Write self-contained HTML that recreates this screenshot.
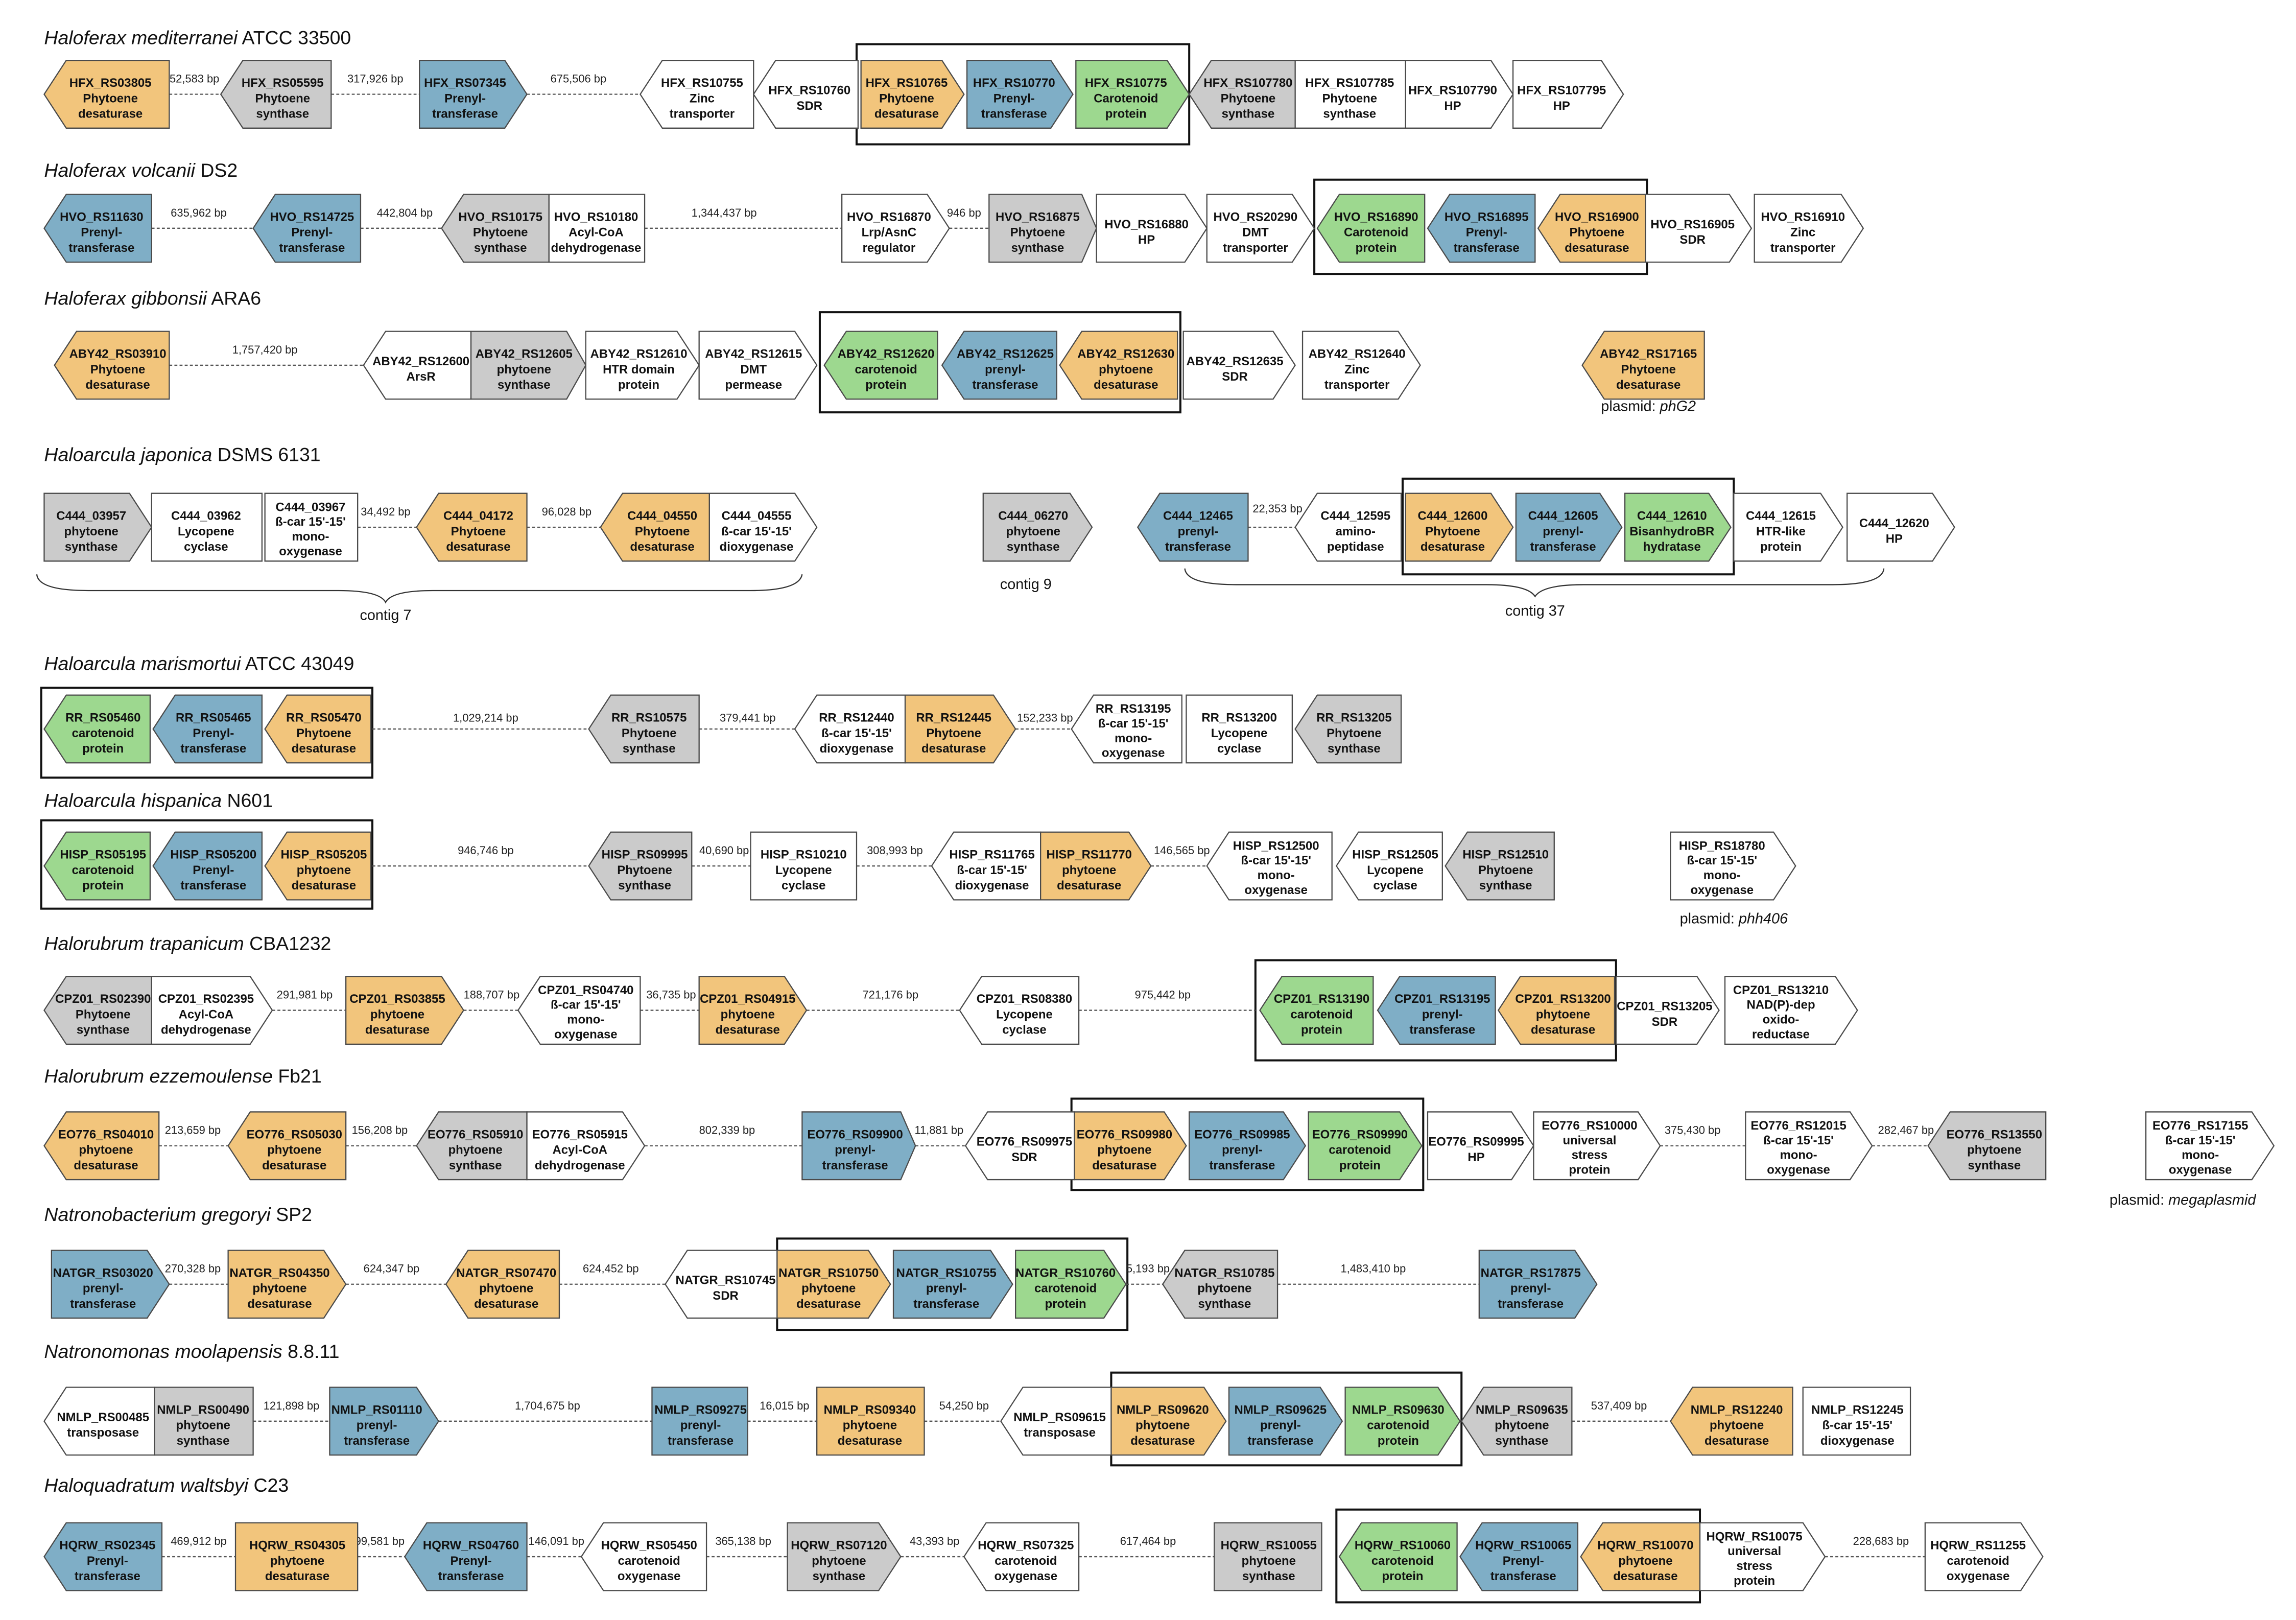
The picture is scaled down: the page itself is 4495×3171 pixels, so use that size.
<!DOCTYPE html>
<html><head><meta charset="utf-8"><style>
html,body{margin:0;padding:0;background:#fff;}
svg{display:block;}
.o{fill:#F2C57C}.b{fill:#7FAEC6}.g{fill:#9DD88F}.y{fill:#CBCBCB}.w{fill:#fff}
polygon{stroke:#4a4a4a;stroke-width:.8}
text{font-family:"Liberation Sans",Arial,sans-serif;}
.t{font-size:8.3px;font-weight:bold;text-anchor:middle;fill:#111}
.s{font-size:7.6px;text-anchor:middle;fill:#222}
.h{font-size:13px;fill:#111}
.c{font-size:10px;text-anchor:middle;fill:#111}
.d{stroke:#555;stroke-width:.8;stroke-dasharray:2,1.5}
.bx{fill:none;stroke:#111;stroke-width:1.4}
.br{fill:none;stroke:#333;stroke-width:.8}
</style></head><body>
<svg width="4495" height="3171" viewBox="0 0 1560 1100" preserveAspectRatio="none" xmlns="http://www.w3.org/2000/svg">
<rect width="1560" height="1100" fill="#fff"/>

<!-- Row 1 -->
<text class="h" x="30" y="30"><tspan font-style="italic">Haloferax mediterranei</tspan> ATCC 33500</text>
<rect class="bx" x="582" y="30" width="226" height="68"/>
<line class="d" x1="115" y1="64" x2="150" y2="64"/><text class="s" x="130" y="56">352,583 bp</text>
<line class="d" x1="225" y1="64" x2="285" y2="64"/><text class="s" x="255" y="56">317,926 bp</text>
<line class="d" x1="358" y1="64" x2="435" y2="64"/><text class="s" x="393" y="56">675,506 bp</text>
<polygon class="o" points="30,64 45,41 115,41 115,87 45,87"/><text class="t" x="75" y="59"><tspan x="75">HFX_RS03805</tspan><tspan x="75" dy="10.5">Phytoene</tspan><tspan x="75" dy="10.5">desaturase</tspan></text>
<polygon class="y" points="150,64 165,41 225,41 225,87 165,87"/><text class="t" x="192" y="59"><tspan x="192">HFX_RS05595</tspan><tspan x="192" dy="10.5">Phytoene</tspan><tspan x="192" dy="10.5">synthase</tspan></text>
<polygon class="b" points="285,41 343,41 358,64 343,87 285,87"/><text class="t" x="316" y="59"><tspan x="316">HFX_RS07345</tspan><tspan x="316" dy="10.5">Prenyl-</tspan><tspan x="316" dy="10.5">transferase</tspan></text>
<polygon class="w" points="435,64 450,41 512,41 512,87 450,87"/><text class="t" x="477" y="59"><tspan x="477">HFX_RS10755</tspan><tspan x="477" dy="10.5">Zinc</tspan><tspan x="477" dy="10.5">transporter</tspan></text>
<polygon class="w" points="512,64 527,41 583,41 583,87 527,87"/><text class="t" x="550" y="64"><tspan x="550">HFX_RS10760</tspan><tspan x="550" dy="10.5">SDR</tspan></text>
<polygon class="o" points="585,41 640,41 655,64 640,87 585,87"/><text class="t" x="616" y="59"><tspan x="616">HFX_RS10765</tspan><tspan x="616" dy="10.5">Phytoene</tspan><tspan x="616" dy="10.5">desaturase</tspan></text>
<polygon class="b" points="657,41 714,41 729,64 714,87 657,87"/><text class="t" x="689" y="59"><tspan x="689">HFX_RS10770</tspan><tspan x="689" dy="10.5">Prenyl-</tspan><tspan x="689" dy="10.5">transferase</tspan></text>
<polygon class="g" points="731,41 793,41 808,64 793,87 731,87"/><text class="t" x="765" y="59"><tspan x="765">HFX_RS10775</tspan><tspan x="765" dy="10.5">Carotenoid</tspan><tspan x="765" dy="10.5">protein</tspan></text>
<polygon class="y" points="808,64 823,41 880,41 880,87 823,87"/><text class="t" x="848" y="59"><tspan x="848">HFX_RS107780</tspan><tspan x="848" dy="10.5">Phytoene</tspan><tspan x="848" dy="10.5">synthase</tspan></text>
<polygon class="w" points="880,41 955,41 955,87 880,87"/><text class="t" x="917" y="59"><tspan x="917">HFX_RS107785</tspan><tspan x="917" dy="10.5">Phytoene</tspan><tspan x="917" dy="10.5">synthase</tspan></text>
<polygon class="w" points="955,41 1013,41 1028,64 1013,87 955,87"/><text class="t" x="987" y="64"><tspan x="987">HFX_RS107790</tspan><tspan x="987" dy="10.5">HP</tspan></text>
<polygon class="w" points="1028,41 1088,41 1103,64 1088,87 1028,87"/><text class="t" x="1061" y="64"><tspan x="1061">HFX_RS107795</tspan><tspan x="1061" dy="10.5">HP</tspan></text>

<!-- Row 2 -->
<text class="h" x="30" y="120"><tspan font-style="italic">Haloferax volcanii</tspan> DS2</text>
<rect class="bx" x="893" y="122" width="226" height="64"/>
<line class="d" x1="103" y1="155" x2="172" y2="155"/><text class="s" x="135" y="147">635,962 bp</text>
<line class="d" x1="245" y1="155" x2="300" y2="155"/><text class="s" x="275" y="147">442,804 bp</text>
<line class="d" x1="438" y1="155" x2="572" y2="155"/><text class="s" x="492" y="147">1,344,437 bp</text>
<line class="d" x1="645" y1="155" x2="672" y2="155"/><text class="s" x="655" y="147">946 bp</text>
<polygon class="b" points="30,155 45,132 103,132 103,178 45,178"/><text class="t" x="69" y="150"><tspan x="69">HVO_RS11630</tspan><tspan x="69" dy="10.5">Prenyl-</tspan><tspan x="69" dy="10.5">transferase</tspan></text>
<polygon class="b" points="172,155 187,132 245,132 245,178 187,178"/><text class="t" x="212" y="150"><tspan x="212">HVO_RS14725</tspan><tspan x="212" dy="10.5">Prenyl-</tspan><tspan x="212" dy="10.5">transferase</tspan></text>
<polygon class="y" points="300,155 315,132 373,132 373,178 315,178"/><text class="t" x="340" y="150"><tspan x="340">HVO_RS10175</tspan><tspan x="340" dy="10.5">Phytoene</tspan><tspan x="340" dy="10.5">synthase</tspan></text>
<polygon class="w" points="373,132 438,132 438,178 373,178"/><text class="t" x="405" y="150"><tspan x="405">HVO_RS10180</tspan><tspan x="405" dy="10.5">Acyl-CoA</tspan><tspan x="405" dy="10.5">dehydrogenase</tspan></text>
<polygon class="w" points="572,132 630,132 645,155 630,178 572,178"/><text class="t" x="604" y="150"><tspan x="604">HVO_RS16870</tspan><tspan x="604" dy="10.5">Lrp/AsnC</tspan><tspan x="604" dy="10.5">regulator</tspan></text>
<polygon class="y" points="672,132 735,132 745,155 735,178 672,178"/><text class="t" x="705" y="150"><tspan x="705">HVO_RS16875</tspan><tspan x="705" dy="10.5">Phytoene</tspan><tspan x="705" dy="10.5">synthase</tspan></text>
<polygon class="w" points="745,132 805,132 820,155 805,178 745,178"/><text class="t" x="779" y="155"><tspan x="779">HVO_RS16880</tspan><tspan x="779" dy="10.5">HP</tspan></text>
<polygon class="w" points="820,132 878,132 893,155 878,178 820,178"/><text class="t" x="853" y="150"><tspan x="853">HVO_RS20290</tspan><tspan x="853" dy="10.5">DMT</tspan><tspan x="853" dy="10.5">transporter</tspan></text>
<polygon class="g" points="895,155 910,132 968,132 968,178 910,178"/><text class="t" x="935" y="150"><tspan x="935">HVO_RS16890</tspan><tspan x="935" dy="10.5">Carotenoid</tspan><tspan x="935" dy="10.5">protein</tspan></text>
<polygon class="b" points="970,155 985,132 1043,132 1043,178 985,178"/><text class="t" x="1010" y="150"><tspan x="1010">HVO_RS16895</tspan><tspan x="1010" dy="10.5">Prenyl-</tspan><tspan x="1010" dy="10.5">transferase</tspan></text>
<polygon class="o" points="1045,155 1060,132 1118,132 1118,178 1060,178"/><text class="t" x="1085" y="150"><tspan x="1085">HVO_RS16900</tspan><tspan x="1085" dy="10.5">Phytoene</tspan><tspan x="1085" dy="10.5">desaturase</tspan></text>
<polygon class="w" points="1118,132 1175,132 1190,155 1175,178 1118,178"/><text class="t" x="1150" y="155"><tspan x="1150">HVO_RS16905</tspan><tspan x="1150" dy="10.5">SDR</tspan></text>
<polygon class="w" points="1192,132 1251,132 1266,155 1251,178 1192,178"/><text class="t" x="1225" y="150"><tspan x="1225">HVO_RS16910</tspan><tspan x="1225" dy="10.5">Zinc</tspan><tspan x="1225" dy="10.5">transporter</tspan></text>

<!-- Row 3 -->
<text class="h" x="30" y="207"><tspan font-style="italic">Haloferax gibbonsii</tspan> ARA6</text>
<rect class="bx" x="557" y="212" width="245" height="68"/>
<line class="d" x1="115" y1="248" x2="247" y2="248"/><text class="s" x="180" y="240">1,757,420 bp</text>
<polygon class="o" points="37,248 52,225 115,225 115,271 52,271"/><text class="t" x="80" y="243"><tspan x="80">ABY42_RS03910</tspan><tspan x="80" dy="10.5">Phytoene</tspan><tspan x="80" dy="10.5">desaturase</tspan></text>
<polygon class="w" points="247,248 262,225 320,225 320,271 262,271"/><text class="t" x="286" y="248"><tspan x="286">ABY42_RS12600</tspan><tspan x="286" dy="10.5">ArsR</tspan></text>
<polygon class="y" points="320,225 385,225 398,248 385,271 320,271"/><text class="t" x="356" y="243"><tspan x="356">ABY42_RS12605</tspan><tspan x="356" dy="10.5">phytoene</tspan><tspan x="356" dy="10.5">synthase</tspan></text>
<polygon class="w" points="398,225 460,225 475,248 460,271 398,271"/><text class="t" x="434" y="243"><tspan x="434">ABY42_RS12610</tspan><tspan x="434" dy="10.5">HTR domain</tspan><tspan x="434" dy="10.5">protein</tspan></text>
<polygon class="w" points="475,225 540,225 555,248 540,271 475,271"/><text class="t" x="512" y="243"><tspan x="512">ABY42_RS12615</tspan><tspan x="512" dy="10.5">DMT</tspan><tspan x="512" dy="10.5">permease</tspan></text>
<polygon class="g" points="560,248 575,225 637,225 637,271 575,271"/><text class="t" x="602" y="243"><tspan x="602">ABY42_RS12620</tspan><tspan x="602" dy="10.5">carotenoid</tspan><tspan x="602" dy="10.5">protein</tspan></text>
<polygon class="b" points="640,248 655,225 718,225 718,271 655,271"/><text class="t" x="683" y="243"><tspan x="683">ABY42_RS12625</tspan><tspan x="683" dy="10.5">prenyl-</tspan><tspan x="683" dy="10.5">transferase</tspan></text>
<polygon class="o" points="720,248 735,225 800,225 800,271 735,271"/><text class="t" x="765" y="243"><tspan x="765">ABY42_RS12630</tspan><tspan x="765" dy="10.5">phytoene</tspan><tspan x="765" dy="10.5">desaturase</tspan></text>
<polygon class="w" points="804,225 865,225 880,248 865,271 804,271"/><text class="t" x="839" y="248"><tspan x="839">ABY42_RS12635</tspan><tspan x="839" dy="10.5">SDR</tspan></text>
<polygon class="w" points="885,225 950,225 965,248 950,271 885,271"/><text class="t" x="922" y="243"><tspan x="922">ABY42_RS12640</tspan><tspan x="922" dy="10.5">Zinc</tspan><tspan x="922" dy="10.5">transporter</tspan></text>
<polygon class="o" points="1075,248 1090,225 1158,225 1158,271 1090,271"/><text class="t" x="1120" y="243"><tspan x="1120">ABY42_RS17165</tspan><tspan x="1120" dy="10.5">Phytoene</tspan><tspan x="1120" dy="10.5">desaturase</tspan></text>
<text class="c" x="1120" y="279">plasmid: <tspan font-style="italic">phG2</tspan></text>

<!-- Row 4 -->
<text class="h" x="30" y="313"><tspan font-style="italic">Haloarcula japonica</tspan> DSMS 6131</text>
<rect class="bx" x="953" y="325" width="225" height="65"/>
<line class="d" x1="243" y1="358" x2="283" y2="358"/><text class="s" x="262" y="350">34,492 bp</text>
<line class="d" x1="358" y1="358" x2="408" y2="358"/><text class="s" x="385" y="350">96,028 bp</text>
<line class="d" x1="848" y1="358" x2="880" y2="358"/><text class="s" x="868" y="348">22,353 bp</text>
<polygon class="y" points="30,335 88,335 103,358 88,381 30,381"/><text class="t" x="62" y="353"><tspan x="62">C444_03957</tspan><tspan x="62" dy="10.5">phytoene</tspan><tspan x="62" dy="10.5">synthase</tspan></text>
<polygon class="w" points="103,335 178,335 178,381 103,381"/><text class="t" x="140" y="353"><tspan x="140">C444_03962</tspan><tspan x="140" dy="10.5">Lycopene</tspan><tspan x="140" dy="10.5">cyclase</tspan></text>
<polygon class="w" points="180,335 243,335 243,381 180,381"/><text class="t" x="211" y="347"><tspan x="211">C444_03967</tspan><tspan x="211" dy="10">ß-car 15'-15'</tspan><tspan x="211" dy="10">mono-</tspan><tspan x="211" dy="10">oxygenase</tspan></text>
<polygon class="o" points="283,358 298,335 358,335 358,381 298,381"/><text class="t" x="325" y="353"><tspan x="325">C444_04172</tspan><tspan x="325" dy="10.5">Phytoene</tspan><tspan x="325" dy="10.5">desaturase</tspan></text>
<polygon class="o" points="408,358 423,335 482,335 482,381 423,381"/><text class="t" x="450" y="353"><tspan x="450">C444_04550</tspan><tspan x="450" dy="10.5">Phytoene</tspan><tspan x="450" dy="10.5">desaturase</tspan></text>
<polygon class="w" points="482,335 540,335 555,358 540,381 482,381"/><text class="t" x="514" y="353"><tspan x="514">C444_04555</tspan><tspan x="514" dy="10.5">ß-car 15'-15'</tspan><tspan x="514" dy="10.5">dioxygenase</tspan></text>
<path class="br" d="M25,390 Q26,401 60,401 L230,401 Q258,401 262,409 Q266,401 294,401 L510,401 Q543,401 545,390"/>
<text class="c" x="262" y="421">contig 7</text>
<polygon class="y" points="668,335 727,335 742,358 727,381 668,381"/><text class="t" x="702" y="353"><tspan x="702">C444_06270</tspan><tspan x="702" dy="10.5">phytoene</tspan><tspan x="702" dy="10.5">synthase</tspan></text>
<text class="c" x="697" y="400">contig 9</text>
<polygon class="b" points="773,358 788,335 848,335 848,381 788,381"/><text class="t" x="814" y="353"><tspan x="814">C444_12465</tspan><tspan x="814" dy="10.5">prenyl-</tspan><tspan x="814" dy="10.5">transferase</tspan></text>
<polygon class="w" points="880,358 895,335 952,335 952,381 895,381"/><text class="t" x="921" y="353"><tspan x="921">C444_12595</tspan><tspan x="921" dy="10.5">amino-</tspan><tspan x="921" dy="10.5">peptidase</tspan></text>
<polygon class="o" points="955,335 1013,335 1028,358 1013,381 955,381"/><text class="t" x="987" y="353"><tspan x="987">C444_12600</tspan><tspan x="987" dy="10.5">Phytoene</tspan><tspan x="987" dy="10.5">desaturase</tspan></text>
<polygon class="b" points="1030,335 1087,335 1102,358 1087,381 1030,381"/><text class="t" x="1062" y="353"><tspan x="1062">C444_12605</tspan><tspan x="1062" dy="10.5">prenyl-</tspan><tspan x="1062" dy="10.5">transferase</tspan></text>
<polygon class="g" points="1104,335 1161,335 1176,358 1161,381 1104,381"/><text class="t" x="1136" y="353"><tspan x="1136">C444_12610</tspan><tspan x="1136" dy="10.5">BisanhydroBR</tspan><tspan x="1136" dy="10.5">hydratase</tspan></text>
<polygon class="w" points="1178,335 1237,335 1252,358 1237,381 1178,381"/><text class="t" x="1210" y="353"><tspan x="1210">C444_12615</tspan><tspan x="1210" dy="10.5">HTR-like</tspan><tspan x="1210" dy="10.5">protein</tspan></text>
<polygon class="w" points="1255,335 1313,335 1328,358 1313,381 1255,381"/><text class="t" x="1287" y="358"><tspan x="1287">C444_12620</tspan><tspan x="1287" dy="10.5">HP</tspan></text>
<path class="br" d="M805,386 Q806,397 840,397 L1010,397 Q1038,397 1043,405 Q1048,397 1076,397 L1245,397 Q1279,397 1280,386"/>
<text class="c" x="1043" y="418">contig 37</text>

<!-- Row 5 -->
<text class="h" x="30" y="455"><tspan font-style="italic">Haloarcula marismortui</tspan> ATCC 43049</text>
<rect class="bx" x="28" y="467" width="225" height="61"/>
<line class="d" x1="253" y1="495" x2="400" y2="495"/><text class="s" x="330" y="490">1,029,214 bp</text>
<line class="d" x1="475" y1="495" x2="540" y2="495"/><text class="s" x="508" y="490">379,441 bp</text>
<line class="d" x1="690" y1="495" x2="728" y2="495"/><text class="s" x="710" y="490">152,233 bp</text>
<polygon class="g" points="30,495 45,472 102,472 102,518 45,518"/><text class="t" x="70" y="490"><tspan x="70">RR_RS05460</tspan><tspan x="70" dy="10.5">carotenoid</tspan><tspan x="70" dy="10.5">protein</tspan></text>
<polygon class="b" points="104,495 119,472 178,472 178,518 119,518"/><text class="t" x="145" y="490"><tspan x="145">RR_RS05465</tspan><tspan x="145" dy="10.5">Prenyl-</tspan><tspan x="145" dy="10.5">transferase</tspan></text>
<polygon class="o" points="180,495 195,472 252,472 252,518 195,518"/><text class="t" x="220" y="490"><tspan x="220">RR_RS05470</tspan><tspan x="220" dy="10.5">Phytoene</tspan><tspan x="220" dy="10.5">desaturase</tspan></text>
<polygon class="y" points="400,495 415,472 475,472 475,518 415,518"/><text class="t" x="441" y="490"><tspan x="441">RR_RS10575</tspan><tspan x="441" dy="10.5">Phytoene</tspan><tspan x="441" dy="10.5">synthase</tspan></text>
<polygon class="w" points="540,495 555,472 615,472 615,518 555,518"/><text class="t" x="582" y="490"><tspan x="582">RR_RS12440</tspan><tspan x="582" dy="10.5">ß-car 15'-15'</tspan><tspan x="582" dy="10.5">dioxygenase</tspan></text>
<polygon class="o" points="615,472 675,472 690,495 675,518 615,518"/><text class="t" x="648" y="490"><tspan x="648">RR_RS12445</tspan><tspan x="648" dy="10.5">Phytoene</tspan><tspan x="648" dy="10.5">desaturase</tspan></text>
<polygon class="w" points="728,495 743,472 803,472 803,518 743,518"/><text class="t" x="770" y="484"><tspan x="770">RR_RS13195</tspan><tspan x="770" dy="10">ß-car 15'-15'</tspan><tspan x="770" dy="10">mono-</tspan><tspan x="770" dy="10">oxygenase</tspan></text>
<polygon class="w" points="806,472 878,472 878,518 806,518"/><text class="t" x="842" y="490"><tspan x="842">RR_RS13200</tspan><tspan x="842" dy="10.5">Lycopene</tspan><tspan x="842" dy="10.5">cyclase</tspan></text>
<polygon class="y" points="880,495 895,472 952,472 952,518 895,518"/><text class="t" x="920" y="490"><tspan x="920">RR_RS13205</tspan><tspan x="920" dy="10.5">Phytoene</tspan><tspan x="920" dy="10.5">synthase</tspan></text>

<!-- Row 6 -->
<text class="h" x="30" y="548"><tspan font-style="italic">Haloarcula hispanica</tspan> N601</text>
<rect class="bx" x="28" y="557" width="225" height="60"/>
<line class="d" x1="253" y1="588" x2="400" y2="588"/><text class="s" x="330" y="580">946,746 bp</text>
<line class="d" x1="470" y1="588" x2="510" y2="588"/><text class="s" x="492" y="580">40,690 bp</text>
<line class="d" x1="582" y1="588" x2="633" y2="588"/><text class="s" x="608" y="580">308,993 bp</text>
<line class="d" x1="782" y1="588" x2="820" y2="588"/><text class="s" x="803" y="580">146,565 bp</text>
<polygon class="g" points="30,588 45,565 102,565 102,611 45,611"/><text class="t" x="70" y="583"><tspan x="70">HISP_RS05195</tspan><tspan x="70" dy="10.5">carotenoid</tspan><tspan x="70" dy="10.5">protein</tspan></text>
<polygon class="b" points="104,588 119,565 178,565 178,611 119,611"/><text class="t" x="145" y="583"><tspan x="145">HISP_RS05200</tspan><tspan x="145" dy="10.5">Prenyl-</tspan><tspan x="145" dy="10.5">transferase</tspan></text>
<polygon class="o" points="180,588 195,565 252,565 252,611 195,611"/><text class="t" x="220" y="583"><tspan x="220">HISP_RS05205</tspan><tspan x="220" dy="10.5">phytoene</tspan><tspan x="220" dy="10.5">desaturase</tspan></text>
<polygon class="y" points="400,588 415,565 470,565 470,611 415,611"/><text class="t" x="438" y="583"><tspan x="438">HISP_RS09995</tspan><tspan x="438" dy="10.5">Phytoene</tspan><tspan x="438" dy="10.5">synthase</tspan></text>
<polygon class="w" points="510,565 582,565 582,611 510,611"/><text class="t" x="546" y="583"><tspan x="546">HISP_RS10210</tspan><tspan x="546" dy="10.5">Lycopene</tspan><tspan x="546" dy="10.5">cyclase</tspan></text>
<polygon class="w" points="633,588 648,565 707,565 707,611 648,611"/><text class="t" x="674" y="583"><tspan x="674">HISP_RS11765</tspan><tspan x="674" dy="10.5">ß-car 15'-15'</tspan><tspan x="674" dy="10.5">dioxygenase</tspan></text>
<polygon class="o" points="707,565 767,565 782,588 767,611 707,611"/><text class="t" x="740" y="583"><tspan x="740">HISP_RS11770</tspan><tspan x="740" dy="10.5">phytoene</tspan><tspan x="740" dy="10.5">desaturase</tspan></text>
<polygon class="w" points="820,588 835,565 905,565 905,611 835,611"/><text class="t" x="867" y="577"><tspan x="867">HISP_RS12500</tspan><tspan x="867" dy="10">ß-car 15'-15'</tspan><tspan x="867" dy="10">mono-</tspan><tspan x="867" dy="10">oxygenase</tspan></text>
<polygon class="w" points="908,588 923,565 980,565 980,611 923,611"/><text class="t" x="948" y="583"><tspan x="948">HISP_RS12505</tspan><tspan x="948" dy="10.5">Lycopene</tspan><tspan x="948" dy="10.5">cyclase</tspan></text>
<polygon class="y" points="982,588 997,565 1056,565 1056,611 997,611"/><text class="t" x="1023" y="583"><tspan x="1023">HISP_RS12510</tspan><tspan x="1023" dy="10.5">Phytoene</tspan><tspan x="1023" dy="10.5">synthase</tspan></text>
<polygon class="w" points="1135,565 1205,565 1220,588 1205,611 1135,611"/><text class="t" x="1170" y="577"><tspan x="1170">HISP_RS18780</tspan><tspan x="1170" dy="10">ß-car 15'-15'</tspan><tspan x="1170" dy="10">mono-</tspan><tspan x="1170" dy="10">oxygenase</tspan></text>
<text class="c" x="1178" y="627">plasmid: <tspan font-style="italic">phh406</tspan></text>

<!-- Row 7 -->
<text class="h" x="30" y="645"><tspan font-style="italic">Halorubrum trapanicum</tspan> CBA1232</text>
<rect class="bx" x="853" y="652" width="245" height="68"/>
<line class="d" x1="185" y1="686" x2="235" y2="686"/><text class="s" x="207" y="678">291,981 bp</text>
<line class="d" x1="315" y1="686" x2="352" y2="686"/><text class="s" x="334" y="678">188,707 bp</text>
<line class="d" x1="435" y1="686" x2="475" y2="686"/><text class="s" x="456" y="678">36,735 bp</text>
<line class="d" x1="548" y1="686" x2="652" y2="686"/><text class="s" x="605" y="678">721,176 bp</text>
<line class="d" x1="733" y1="686" x2="853" y2="686"/><text class="s" x="790" y="678">975,442 bp</text>
<polygon class="y" points="30,686 45,663 103,663 103,709 45,709"/><text class="t" x="70" y="681"><tspan x="70">CPZ01_RS02390</tspan><tspan x="70" dy="10.5">Phytoene</tspan><tspan x="70" dy="10.5">synthase</tspan></text>
<polygon class="w" points="103,663 170,663 185,686 170,709 103,709"/><text class="t" x="140" y="681"><tspan x="140">CPZ01_RS02395</tspan><tspan x="140" dy="10.5">Acyl-CoA</tspan><tspan x="140" dy="10.5">dehydrogenase</tspan></text>
<polygon class="o" points="235,663 300,663 315,686 300,709 235,709"/><text class="t" x="270" y="681"><tspan x="270">CPZ01_RS03855</tspan><tspan x="270" dy="10.5">phytoene</tspan><tspan x="270" dy="10.5">desaturase</tspan></text>
<polygon class="w" points="352,686 367,663 435,663 435,709 367,709"/><text class="t" x="398" y="675"><tspan x="398">CPZ01_RS04740</tspan><tspan x="398" dy="10">ß-car 15'-15'</tspan><tspan x="398" dy="10">mono-</tspan><tspan x="398" dy="10">oxygenase</tspan></text>
<polygon class="o" points="475,663 533,663 548,686 533,709 475,709"/><text class="t" x="508" y="681"><tspan x="508">CPZ01_RS04915</tspan><tspan x="508" dy="10.5">phytoene</tspan><tspan x="508" dy="10.5">desaturase</tspan></text>
<polygon class="w" points="652,686 667,663 733,663 733,709 667,709"/><text class="t" x="696" y="681"><tspan x="696">CPZ01_RS08380</tspan><tspan x="696" dy="10.5">Lycopene</tspan><tspan x="696" dy="10.5">cyclase</tspan></text>
<polygon class="g" points="856,686 871,663 933,663 933,709 871,709"/><text class="t" x="898" y="681"><tspan x="898">CPZ01_RS13190</tspan><tspan x="898" dy="10.5">carotenoid</tspan><tspan x="898" dy="10.5">protein</tspan></text>
<polygon class="b" points="936,686 951,663 1016,663 1016,709 951,709"/><text class="t" x="980" y="681"><tspan x="980">CPZ01_RS13195</tspan><tspan x="980" dy="10.5">prenyl-</tspan><tspan x="980" dy="10.5">transferase</tspan></text>
<polygon class="o" points="1018,686 1033,663 1097,663 1097,709 1033,709"/><text class="t" x="1062" y="681"><tspan x="1062">CPZ01_RS13200</tspan><tspan x="1062" dy="10.5">phytoene</tspan><tspan x="1062" dy="10.5">desaturase</tspan></text>
<polygon class="w" points="1098,663 1153,663 1168,686 1153,709 1098,709"/><text class="t" x="1131" y="686"><tspan x="1131">CPZ01_RS13205</tspan><tspan x="1131" dy="10.5">SDR</tspan></text>
<polygon class="w" points="1172,663 1247,663 1262,686 1247,709 1172,709"/><text class="t" x="1210" y="675"><tspan x="1210">CPZ01_RS13210</tspan><tspan x="1210" dy="10">NAD(P)-dep</tspan><tspan x="1210" dy="10">oxido-</tspan><tspan x="1210" dy="10">reductase</tspan></text>

<!-- Row 8 -->
<text class="h" x="30" y="735"><tspan font-style="italic">Halorubrum ezzemoulense</tspan> Fb21</text>
<rect class="bx" x="728" y="746" width="239" height="62"/>
<line class="d" x1="108" y1="778" x2="155" y2="778"/><text class="s" x="131" y="770">213,659 bp</text>
<line class="d" x1="235" y1="778" x2="283" y2="778"/><text class="s" x="258" y="770">156,208 bp</text>
<line class="d" x1="438" y1="778" x2="545" y2="778"/><text class="s" x="494" y="770">802,339 bp</text>
<line class="d" x1="622" y1="778" x2="656" y2="778"/><text class="s" x="638" y="770">11,881 bp</text>
<line class="d" x1="1128" y1="778" x2="1186" y2="778"/><text class="s" x="1150" y="770">375,430 bp</text>
<line class="d" x1="1272" y1="778" x2="1310" y2="778"/><text class="s" x="1295" y="770">282,467 bp</text>
<polygon class="o" points="30,778 45,755 108,755 108,801 45,801"/><text class="t" x="72" y="773"><tspan x="72">EO776_RS04010</tspan><tspan x="72" dy="10.5">phytoene</tspan><tspan x="72" dy="10.5">desaturase</tspan></text>
<polygon class="o" points="155,778 170,755 235,755 235,801 170,801"/><text class="t" x="200" y="773"><tspan x="200">EO776_RS05030</tspan><tspan x="200" dy="10.5">phytoene</tspan><tspan x="200" dy="10.5">desaturase</tspan></text>
<polygon class="y" points="283,778 298,755 358,755 358,801 298,801"/><text class="t" x="323" y="773"><tspan x="323">EO776_RS05910</tspan><tspan x="323" dy="10.5">phytoene</tspan><tspan x="323" dy="10.5">synthase</tspan></text>
<polygon class="w" points="358,755 423,755 438,778 423,801 358,801"/><text class="t" x="394" y="773"><tspan x="394">EO776_RS05915</tspan><tspan x="394" dy="10.5">Acyl-CoA</tspan><tspan x="394" dy="10.5">dehydrogenase</tspan></text>
<polygon class="b" points="545,755 612,755 622,778 612,801 545,801"/><text class="t" x="581" y="773"><tspan x="581">EO776_RS09900</tspan><tspan x="581" dy="10.5">prenyl-</tspan><tspan x="581" dy="10.5">transferase</tspan></text>
<polygon class="w" points="656,778 671,755 730,755 730,801 671,801"/><text class="t" x="696" y="778"><tspan x="696">EO776_RS09975</tspan><tspan x="696" dy="10.5">SDR</tspan></text>
<polygon class="o" points="730,755 791,755 806,778 791,801 730,801"/><text class="t" x="764" y="773"><tspan x="764">EO776_RS09980</tspan><tspan x="764" dy="10.5">phytoene</tspan><tspan x="764" dy="10.5">desaturase</tspan></text>
<polygon class="b" points="808,755 872,755 887,778 872,801 808,801"/><text class="t" x="844" y="773"><tspan x="844">EO776_RS09985</tspan><tspan x="844" dy="10.5">prenyl-</tspan><tspan x="844" dy="10.5">transferase</tspan></text>
<polygon class="g" points="889,755 951,755 966,778 951,801 889,801"/><text class="t" x="924" y="773"><tspan x="924">EO776_RS09990</tspan><tspan x="924" dy="10.5">carotenoid</tspan><tspan x="924" dy="10.5">protein</tspan></text>
<polygon class="w" points="970,755 1027,755 1042,778 1027,801 970,801"/><text class="t" x="1003" y="778"><tspan x="1003">EO776_RS09995</tspan><tspan x="1003" dy="10.5">HP</tspan></text>
<polygon class="w" points="1042,755 1113,755 1128,778 1113,801 1042,801"/><text class="t" x="1080" y="767"><tspan x="1080">EO776_RS10000</tspan><tspan x="1080" dy="10">universal</tspan><tspan x="1080" dy="10">stress</tspan><tspan x="1080" dy="10">protein</tspan></text>
<polygon class="w" points="1186,755 1257,755 1272,778 1257,801 1186,801"/><text class="t" x="1222" y="767"><tspan x="1222">EO776_RS12015</tspan><tspan x="1222" dy="10">ß-car 15'-15'</tspan><tspan x="1222" dy="10">mono-</tspan><tspan x="1222" dy="10">oxygenase</tspan></text>
<polygon class="y" points="1310,778 1325,755 1390,755 1390,801 1325,801"/><text class="t" x="1355" y="773"><tspan x="1355">EO776_RS13550</tspan><tspan x="1355" dy="10.5">phytoene</tspan><tspan x="1355" dy="10.5">synthase</tspan></text>
<polygon class="w" points="1458,755 1530,755 1545,778 1530,801 1458,801"/><text class="t" x="1495" y="767"><tspan x="1495">EO776_RS17155</tspan><tspan x="1495" dy="10">ß-car 15'-15'</tspan><tspan x="1495" dy="10">mono-</tspan><tspan x="1495" dy="10">oxygenase</tspan></text>
<text class="c" x="1483" y="818">plasmid: <tspan font-style="italic">megaplasmid</tspan></text>

<!-- Row 9 -->
<text class="h" x="30" y="829"><tspan font-style="italic">Natronobacterium gregoryi</tspan> SP2</text>
<rect class="bx" x="528" y="841" width="238" height="62"/>
<line class="d" x1="115" y1="872" x2="155" y2="872"/><text class="s" x="131" y="864">270,328 bp</text>
<line class="d" x1="235" y1="872" x2="303" y2="872"/><text class="s" x="266" y="864">624,347 bp</text>
<line class="d" x1="380" y1="872" x2="452" y2="872"/><text class="s" x="415" y="864">624,452 bp</text>
<line class="d" x1="765" y1="872" x2="790" y2="872"/><text class="s" x="780" y="864">5,193 bp</text>
<line class="d" x1="868" y1="872" x2="1005" y2="872"/><text class="s" x="933" y="864">1,483,410 bp</text>
<polygon class="b" points="35,849 100,849 115,872 100,895 35,895"/><text class="t" x="70" y="867"><tspan x="70">NATGR_RS03020</tspan><tspan x="70" dy="10.5">prenyl-</tspan><tspan x="70" dy="10.5">transferase</tspan></text>
<polygon class="o" points="155,849 220,849 235,872 220,895 155,895"/><text class="t" x="190" y="867"><tspan x="190">NATGR_RS04350</tspan><tspan x="190" dy="10.5">phytoene</tspan><tspan x="190" dy="10.5">desaturase</tspan></text>
<polygon class="o" points="303,872 318,849 380,849 380,895 318,895"/><text class="t" x="344" y="867"><tspan x="344">NATGR_RS07470</tspan><tspan x="344" dy="10.5">phytoene</tspan><tspan x="344" dy="10.5">desaturase</tspan></text>
<polygon class="w" points="452,872 467,849 528,849 528,895 467,895"/><text class="t" x="493" y="872"><tspan x="493">NATGR_RS10745</tspan><tspan x="493" dy="10.5">SDR</tspan></text>
<polygon class="o" points="528,849 590,849 605,872 590,895 528,895"/><text class="t" x="563" y="867"><tspan x="563">NATGR_RS10750</tspan><tspan x="563" dy="10.5">phytoene</tspan><tspan x="563" dy="10.5">desaturase</tspan></text>
<polygon class="b" points="607,849 673,849 688,872 673,895 607,895"/><text class="t" x="643" y="867"><tspan x="643">NATGR_RS10755</tspan><tspan x="643" dy="10.5">prenyl-</tspan><tspan x="643" dy="10.5">transferase</tspan></text>
<polygon class="g" points="690,849 750,849 765,872 750,895 690,895"/><text class="t" x="724" y="867"><tspan x="724">NATGR_RS10760</tspan><tspan x="724" dy="10.5">carotenoid</tspan><tspan x="724" dy="10.5">protein</tspan></text>
<polygon class="y" points="790,872 805,849 868,849 868,895 805,895"/><text class="t" x="832" y="867"><tspan x="832">NATGR_RS10785</tspan><tspan x="832" dy="10.5">phytoene</tspan><tspan x="832" dy="10.5">synthase</tspan></text>
<polygon class="b" points="1005,849 1070,849 1085,872 1070,895 1005,895"/><text class="t" x="1040" y="867"><tspan x="1040">NATGR_RS17875</tspan><tspan x="1040" dy="10.5">prenyl-</tspan><tspan x="1040" dy="10.5">transferase</tspan></text>

<!-- Row 10 -->
<text class="h" x="30" y="922"><tspan font-style="italic">Natronomonas moolapensis</tspan> 8.8.11</text>
<rect class="bx" x="755" y="932" width="238" height="63"/>
<line class="d" x1="172" y1="965" x2="224" y2="965"/><text class="s" x="198" y="957">121,898 bp</text>
<line class="d" x1="298" y1="965" x2="443" y2="965"/><text class="s" x="372" y="957">1,704,675 bp</text>
<line class="d" x1="508" y1="965" x2="555" y2="965"/><text class="s" x="533" y="957">16,015 bp</text>
<line class="d" x1="628" y1="965" x2="680" y2="965"/><text class="s" x="655" y="957">54,250 bp</text>
<line class="d" x1="1068" y1="965" x2="1135" y2="965"/><text class="s" x="1100" y="957">537,409 bp</text>
<polygon class="w" points="30,965 45,942 105,942 105,988 45,988"/><text class="t" x="70" y="965"><tspan x="70">NMLP_RS00485</tspan><tspan x="70" dy="10.5">transposase</tspan></text>
<polygon class="y" points="105,942 172,942 172,988 105,988"/><text class="t" x="138" y="960"><tspan x="138">NMLP_RS00490</tspan><tspan x="138" dy="10.5">phytoene</tspan><tspan x="138" dy="10.5">synthase</tspan></text>
<polygon class="b" points="224,942 283,942 298,965 283,988 224,988"/><text class="t" x="256" y="960"><tspan x="256">NMLP_RS01110</tspan><tspan x="256" dy="10.5">prenyl-</tspan><tspan x="256" dy="10.5">transferase</tspan></text>
<polygon class="b" points="443,942 508,942 508,988 443,988"/><text class="t" x="476" y="960"><tspan x="476">NMLP_RS09275</tspan><tspan x="476" dy="10.5">prenyl-</tspan><tspan x="476" dy="10.5">transferase</tspan></text>
<polygon class="o" points="555,942 628,942 628,988 555,988"/><text class="t" x="591" y="960"><tspan x="591">NMLP_RS09340</tspan><tspan x="591" dy="10.5">phytoene</tspan><tspan x="591" dy="10.5">desaturase</tspan></text>
<polygon class="w" points="680,965 695,942 755,942 755,988 695,988"/><text class="t" x="720" y="965"><tspan x="720">NMLP_RS09615</tspan><tspan x="720" dy="10.5">transposase</tspan></text>
<polygon class="o" points="755,942 818,942 833,965 818,988 755,988"/><text class="t" x="790" y="960"><tspan x="790">NMLP_RS09620</tspan><tspan x="790" dy="10.5">phytoene</tspan><tspan x="790" dy="10.5">desaturase</tspan></text>
<polygon class="b" points="835,942 897,942 912,965 897,988 835,988"/><text class="t" x="870" y="960"><tspan x="870">NMLP_RS09625</tspan><tspan x="870" dy="10.5">prenyl-</tspan><tspan x="870" dy="10.5">transferase</tspan></text>
<polygon class="g" points="914,942 977,942 992,965 977,988 914,988"/><text class="t" x="950" y="960"><tspan x="950">NMLP_RS09630</tspan><tspan x="950" dy="10.5">carotenoid</tspan><tspan x="950" dy="10.5">protein</tspan></text>
<polygon class="y" points="993,965 1008,942 1068,942 1068,988 1008,988"/><text class="t" x="1034" y="960"><tspan x="1034">NMLP_RS09635</tspan><tspan x="1034" dy="10.5">phytoene</tspan><tspan x="1034" dy="10.5">synthase</tspan></text>
<polygon class="o" points="1135,965 1150,942 1218,942 1218,988 1150,988"/><text class="t" x="1180" y="960"><tspan x="1180">NMLP_RS12240</tspan><tspan x="1180" dy="10.5">phytoene</tspan><tspan x="1180" dy="10.5">desaturase</tspan></text>
<polygon class="w" points="1225,942 1298,942 1298,988 1225,988"/><text class="t" x="1262" y="960"><tspan x="1262">NMLP_RS12245</tspan><tspan x="1262" dy="10.5">ß-car 15'-15'</tspan><tspan x="1262" dy="10.5">dioxygenase</tspan></text>

<!-- Row 11 -->
<text class="h" x="30" y="1013"><tspan font-style="italic">Haloquadratum waltsbyi</tspan> C23</text>
<rect class="bx" x="908" y="1025" width="247" height="63"/>
<line class="d" x1="110" y1="1057" x2="160" y2="1057"/><text class="s" x="135" y="1049">469,912 bp</text>
<line class="d" x1="243" y1="1057" x2="275" y2="1057"/><text class="s" x="258" y="1049">99,581 bp</text>
<line class="d" x1="358" y1="1057" x2="395" y2="1057"/><text class="s" x="378" y="1049">146,091 bp</text>
<line class="d" x1="480" y1="1057" x2="535" y2="1057"/><text class="s" x="505" y="1049">365,138 bp</text>
<line class="d" x1="612" y1="1057" x2="655" y2="1057"/><text class="s" x="635" y="1049">43,393 bp</text>
<line class="d" x1="733" y1="1057" x2="825" y2="1057"/><text class="s" x="780" y="1049">617,464 bp</text>
<line class="d" x1="1240" y1="1057" x2="1308" y2="1057"/><text class="s" x="1278" y="1049">228,683 bp</text>
<polygon class="b" points="30,1057 45,1034 110,1034 110,1080 45,1080"/><text class="t" x="73" y="1052"><tspan x="73">HQRW_RS02345</tspan><tspan x="73" dy="10.5">Prenyl-</tspan><tspan x="73" dy="10.5">transferase</tspan></text>
<polygon class="o" points="160,1034 243,1034 243,1080 160,1080"/><text class="t" x="202" y="1052"><tspan x="202">HQRW_RS04305</tspan><tspan x="202" dy="10.5">phytoene</tspan><tspan x="202" dy="10.5">desaturase</tspan></text>
<polygon class="b" points="275,1057 290,1034 358,1034 358,1080 290,1080"/><text class="t" x="320" y="1052"><tspan x="320">HQRW_RS04760</tspan><tspan x="320" dy="10.5">Prenyl-</tspan><tspan x="320" dy="10.5">transferase</tspan></text>
<polygon class="w" points="395,1057 410,1034 480,1034 480,1080 410,1080"/><text class="t" x="441" y="1052"><tspan x="441">HQRW_RS05450</tspan><tspan x="441" dy="10.5">carotenoid</tspan><tspan x="441" dy="10.5">oxygenase</tspan></text>
<polygon class="y" points="535,1034 597,1034 612,1057 597,1080 535,1080"/><text class="t" x="570" y="1052"><tspan x="570">HQRW_RS07120</tspan><tspan x="570" dy="10.5">phytoene</tspan><tspan x="570" dy="10.5">synthase</tspan></text>
<polygon class="w" points="655,1057 670,1034 733,1034 733,1080 670,1080"/><text class="t" x="697" y="1052"><tspan x="697">HQRW_RS07325</tspan><tspan x="697" dy="10.5">carotenoid</tspan><tspan x="697" dy="10.5">oxygenase</tspan></text>
<polygon class="y" points="825,1034 898,1034 898,1080 825,1080"/><text class="t" x="862" y="1052"><tspan x="862">HQRW_RS10055</tspan><tspan x="862" dy="10.5">phytoene</tspan><tspan x="862" dy="10.5">synthase</tspan></text>
<polygon class="g" points="910,1057 925,1034 990,1034 990,1080 925,1080"/><text class="t" x="953" y="1052"><tspan x="953">HQRW_RS10060</tspan><tspan x="953" dy="10.5">carotenoid</tspan><tspan x="953" dy="10.5">protein</tspan></text>
<polygon class="b" points="992,1057 1007,1034 1072,1034 1072,1080 1007,1080"/><text class="t" x="1035" y="1052"><tspan x="1035">HQRW_RS10065</tspan><tspan x="1035" dy="10.5">Prenyl-</tspan><tspan x="1035" dy="10.5">transferase</tspan></text>
<polygon class="o" points="1074,1057 1089,1034 1155,1034 1155,1080 1089,1080"/><text class="t" x="1118" y="1052"><tspan x="1118">HQRW_RS10070</tspan><tspan x="1118" dy="10.5">phytoene</tspan><tspan x="1118" dy="10.5">desaturase</tspan></text>
<polygon class="w" points="1155,1034 1225,1034 1240,1057 1225,1080 1155,1080"/><text class="t" x="1192" y="1046"><tspan x="1192">HQRW_RS10075</tspan><tspan x="1192" dy="10">universal</tspan><tspan x="1192" dy="10">stress</tspan><tspan x="1192" dy="10">protein</tspan></text>
<polygon class="w" points="1308,1034 1373,1034 1388,1057 1373,1080 1308,1080"/><text class="t" x="1344" y="1052"><tspan x="1344">HQRW_RS11255</tspan><tspan x="1344" dy="10.5">carotenoid</tspan><tspan x="1344" dy="10.5">oxygenase</tspan></text>
</svg>
</body></html>
